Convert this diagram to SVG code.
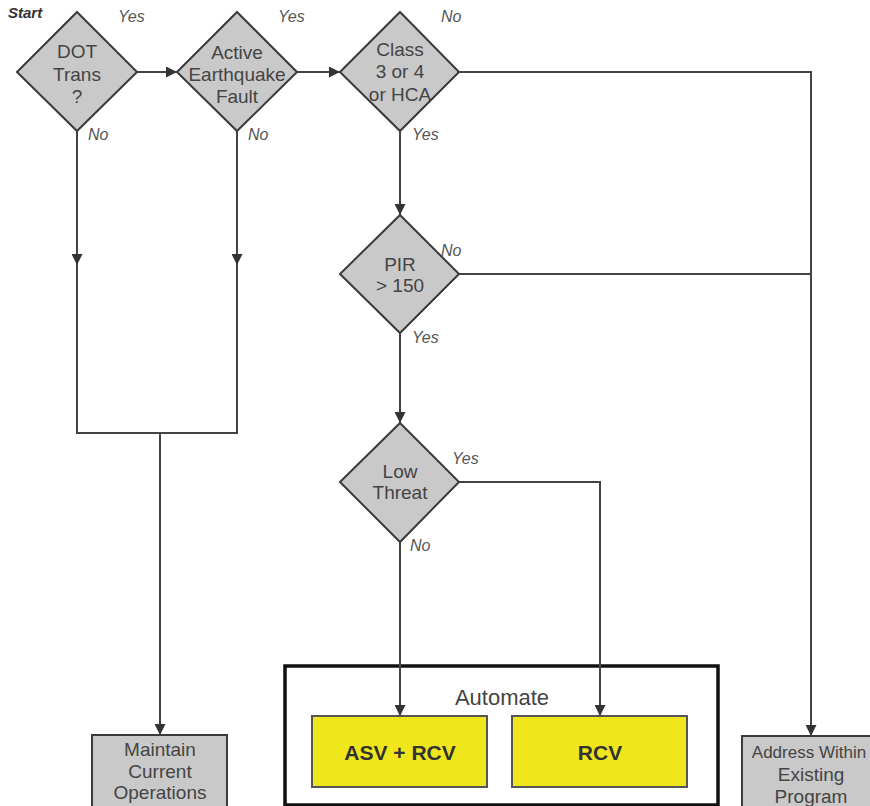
<svg xmlns="http://www.w3.org/2000/svg" width="870" height="806" viewBox="0 0 870 806">
<defs>
<style>
.dia{fill:#c9c9c9;stroke:#3a3a3a;stroke-width:2}
.box{fill:#c9c9c9;stroke:#3a3a3a;stroke-width:2}
.ybox{fill:#efe71c;stroke:#555;stroke-width:2}
.ln{fill:none;stroke:#444;stroke-width:2}
.t{font-family:"Liberation Sans",Arial,sans-serif;font-size:19px;fill:#444;text-anchor:middle}
.lbl{font-family:"Liberation Sans",Arial,sans-serif;font-size:16px;font-style:italic;fill:#555}
.bt{font-family:"Liberation Sans",Arial,sans-serif;font-size:21px;font-weight:bold;fill:#333;text-anchor:middle}
</style>
<marker id="ah" viewBox="0 0 10 10" refX="10" refY="5" markerWidth="11" markerHeight="11" markerUnits="userSpaceOnUse" orient="auto">
<path d="M0,0 L10,5 L0,10 z" fill="#333"/>
</marker>
</defs>
<rect width="870" height="806" fill="#fff"/>
<text x="8" y="18" style="font-family:'Liberation Sans',Arial,sans-serif;font-size:15px;font-weight:bold;font-style:italic;fill:#333">Start</text>

<g id="automate">
<rect x="285" y="666" width="433" height="139" fill="#fff" stroke="#111" stroke-width="3.5"/>
<text x="502" y="705" style="font-family:'Liberation Sans',Arial,sans-serif;font-size:22px;fill:#444;text-anchor:middle">Automate</text>
</g>

<g id="connectors">
<path class="ln" d="M137,72 H177" marker-end="url(#ah)"/>
<path class="ln" d="M297,72 H340" marker-end="url(#ah)"/>
<path class="ln" d="M459,72 H811 V736" marker-end="url(#ah)"/>
<path class="ln" d="M459,274 H811"/>
<path class="ln" d="M400,131 V215" marker-end="url(#ah)"/>
<path class="ln" d="M400,333 V423" marker-end="url(#ah)"/>
<path class="ln" d="M77,131 V265" marker-end="url(#ah)"/>
<path class="ln" d="M237,131 V265" marker-end="url(#ah)"/>
<path class="ln" d="M77,264 V433 H237 V264"/>
<path class="ln" d="M160,433 V735" marker-end="url(#ah)"/>
<path class="ln" d="M400,542 V716" marker-end="url(#ah)"/>
<path class="ln" d="M459,482 H600 V716" marker-end="url(#ah)"/>
</g>

<g id="labels">
<text class="lbl" x="118" y="22">Yes</text>
<text class="lbl" x="88" y="140">No</text>
<text class="lbl" x="278" y="22">Yes</text>
<text class="lbl" x="248" y="140">No</text>
<text class="lbl" x="441" y="22">No</text>
<text class="lbl" x="412" y="140">Yes</text>
<text class="lbl" x="441" y="256">No</text>
<text class="lbl" x="412" y="343">Yes</text>
<text class="lbl" x="452" y="464">Yes</text>
<text class="lbl" x="410" y="551">No</text>
</g>

<g id="dot">
<polygon class="dia" points="77,12 137,72 77,131 17,72"/>
<text class="t" x="77" y="58">DOT</text>
<text class="t" x="77" y="81">Trans</text>
<text class="t" x="77" y="103">?</text>
</g>
<g id="fault">
<polygon class="dia" points="237,12 297,72 237,131 177,72"/>
<text class="t" x="237" y="59">Active</text>
<text class="t" x="237" y="81">Earthquake</text>
<text class="t" x="237" y="103">Fault</text>
</g>
<g id="class">
<polygon class="dia" points="400,12 459,72 400,131 340,72"/>
<text class="t" x="400" y="56">Class</text>
<text class="t" x="400" y="78">3 or 4</text>
<text class="t" x="400" y="101">or HCA</text>
</g>
<g id="pir">
<polygon class="dia" points="400,215 459,274 400,333 340,274"/>
<text class="t" x="400" y="271">PIR</text>
<text class="t" x="400" y="292">&gt; 150</text>
</g>
<g id="lowthreat">
<polygon class="dia" points="400,423 459,482 400,542 340,482"/>
<text class="t" x="400" y="478">Low</text>
<text class="t" x="400" y="499">Threat</text>
</g>
<g id="maintain">
<rect class="box" x="92" y="735" width="135" height="80"/>
<text class="t" x="160" y="756">Maintain</text>
<text class="t" x="160" y="778">Current</text>
<text class="t" x="160" y="799">Operations</text>
</g>
<g id="asvrcv">
<rect class="ybox" x="312" y="716" width="175" height="71"/>
<text class="bt" x="400" y="760">ASV + RCV</text>
</g>
<g id="rcv">
<rect class="ybox" x="512" y="716" width="175" height="71"/>
<text class="bt" x="600" y="760">RCV</text>
</g>
<g id="address">
<rect class="box" x="742" y="736" width="140" height="80"/>
<text class="t" x="809" y="758" style="font-size:17px">Address Within</text>
<text class="t" x="811" y="781">Existing</text>
<text class="t" x="811" y="803">Program</text>
</g>
</svg>
